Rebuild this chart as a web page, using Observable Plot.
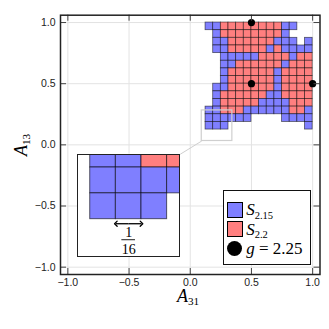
<!DOCTYPE html>
<html><head><meta charset="utf-8">
<script src="https://cdn.jsdelivr.net/npm/d3@7"></script>
<script src="https://cdn.jsdelivr.net/npm/@observablehq/plot@0.6"></script>
<style>
html,body{margin:0;padding:0;background:#fff;}
#wrap{position:relative;width:329px;height:329px;overflow:hidden;background:#fff;}
.tex{font-family:"Liberation Serif","DejaVu Serif",serif;color:#000;white-space:nowrap;line-height:1;}
.tex i{font-style:italic;}
.tex .sub{font-size:0.62em;position:relative;top:0.3em;}
#legend{position:absolute;background:#fff;border:1.4px solid #111;box-sizing:border-box;padding:9px 0 0 3px;}
.lrow{display:flex;align-items:center;height:19.3px;}
.sw{width:16.5px;height:15.5px;box-sizing:border-box;border:1.4px solid #000;margin-right:3px;flex:none;}
.dotsw{width:16.5px;height:16.5px;margin-right:3px;flex:none;display:flex;align-items:center;justify-content:center;}
.dotsw span{display:block;width:15px;height:15px;border-radius:50%;background:#000;}
.ltxt{font-size:17px;}
</style></head><body><div id="wrap"></div>
<script>
// ---- data ----
const ticks = [-1.0, -0.5, 0.0, 0.5, 1.0];
const tickLabels = ["−1.0", "−0.5", "0.0", "0.5", "1.0"];
// grid rows from top (A13 = 1) to bottom, columns from A31 = 0.125 to 1.0; B = S2.15, R = S2.2
const gridRows = [
  "BBRRRRRRRRBB__",
  "_BRRRRRRRRB___",
  "_BBRRRRRRBBB_B",
  "_BBRRRRRBRBBBB",
  "__BBBBBRRRRBRR",
  "__BBRRRRRRBRRR",
  "__BRRRRRRBRRRR",
  "__BRRRRRRBRRRR",
  "_BBRRRRRRBRRRR",
  "_BRRRRRRBBRRRR",
  "_BRRRRRBBBBRRR",
  "BBRRRBBBBBBRRB",
  "BBBBBB____BBBB",
  "BBB__________B"
];
const gridLeft = 0.125, gridTop = 1.0, cellSize = 1 / 16;
const setCodes = ["B", "R"];
const setNames = ["S2.15", "S2.2"];
const setColors = ["#7f7fff", "#ff7f7f"];
const gX = [0.5, 0.5, 1.0];
const gY = [1.0, 0.5, 0.5];
const zoomX = [0.094, 0.344], zoomY = [0.0315, 0.2815];
const insetX = [-0.92, -0.082], insetY = [-0.922, -0.077];
const scaleBarX = [0.1875, 0.25], scaleBarY = 0.114;
const fracParts = ["1", "16"];
const legendSubs = ["2.15", "2.2"];
const gLabel = "2.25";

// ---- build tables ----
const cells = [];
gridRows.forEach((row, r) => {
  [...row].forEach((ch, c) => {
    const k = setCodes.indexOf(ch);
    if (k < 0) return;
    const x1 = gridLeft + c * cellSize, y2 = gridTop - r * cellSize;
    cells.push({x1, x2: x1 + cellSize, y1: y2 - cellSize, y2, set: setNames[k]});
  });
});
const gPoints = gX.map((x, i) => ({x, y: gY[i]}));
const zoomBox = [{x1: zoomX[0], x2: zoomX[1], y1: zoomY[0], y2: zoomY[1]}];
const connector = [{x1: insetX[1], y1: insetY[1], x2: zoomX[0], y2: zoomY[0]}];
const insetBox = [{x1: insetX[0], x2: insetX[1], y1: insetY[0], y2: insetY[1]}];
const mid = (scaleBarX[0] + scaleBarX[1]) / 2;
const arrowHalves = [
  {x1: mid, x2: scaleBarX[0], y: scaleBarY},
  {x1: mid, x2: scaleBarX[1], y: scaleBarY}
];

const W = 329, H = 329, mL = 60, mR = 9.5, mT = 14.7, mB = 55;
const innerW = W - mL - mR, innerH = H - mT - mB;
const tickLen = 6;
const colorScale = {domain: setNames, range: setColors};
const fmt = d => tickLabels[ticks.indexOf(d)];
const cellStyle = {x1: "x1", x2: "x2", y1: "y1", y2: "y2", fill: "set", stroke: "#000", strokeOpacity: 0.6, strokeWidth: 0.8};

const chart = Plot.plot({
  width: W, height: H,
  marginLeft: mL, marginRight: mR, marginTop: mT, marginBottom: mB,
  x: {domain: [-1.06, 1.06]},
  y: {domain: [-1.06, 1.06]},
  color: colorScale,
  style: {background: "white", fontFamily: "'Liberation Sans', Arial, sans-serif", fontSize: "10.5px", color: "#222"},
  marks: [
    Plot.gridX(ticks, {stroke: "#e3e3e3", strokeOpacity: 1, strokeWidth: 1}),
    Plot.gridY(ticks, {stroke: "#e3e3e3", strokeOpacity: 1, strokeWidth: 1}),
    Plot.rect(cells, cellStyle),
    Plot.rect(zoomBox, {x1: "x1", x2: "x2", y1: "y1", y2: "y2", fill: "none", stroke: "#cfcfcf", strokeWidth: 1.2}),
    Plot.link(connector, {x1: "x1", y1: "y1", x2: "x2", y2: "y2", stroke: "#cfcfcf", strokeWidth: 1}),
    Plot.rect(insetBox, {x1: "x1", x2: "x2", y1: "y1", y2: "y2", fill: "white"}),
    Plot.dot(gPoints, {x: "x", y: "y", r: 3.6, fill: "black"}),
    Plot.axisX(ticks, {anchor: "bottom", tickSize: 0, tickPadding: 4, tickFormat: fmt, label: null, fill: "#222"}),
    Plot.axisY(ticks, {anchor: "left", tickSize: 0, tickPadding: 5, tickFormat: fmt, label: null, fill: "#222"}),
    Plot.ruleX(ticks, {insetTop: innerH - tickLen, stroke: "#444"}),
    Plot.ruleX(ticks, {insetBottom: innerH - tickLen, stroke: "#444"}),
    Plot.ruleY(ticks, {insetRight: innerW - tickLen, stroke: "#444"}),
    Plot.ruleY(ticks, {insetLeft: innerW - tickLen, stroke: "#444"}),
    Plot.frame({stroke: "#222", strokeWidth: 1.5})
  ]
});
const wrap = document.getElementById("wrap");
wrap.appendChild(chart);

// ---- inset (magnified view of zoom box) ----
const xs = chart.scale("x"), ys = chart.scale("y");
const iL = xs.apply(insetX[0]), iR = xs.apply(insetX[1]);
const iT = ys.apply(insetY[1]), iB = ys.apply(insetY[0]);
const inset = Plot.plot({
  width: iR - iL, height: iB - iT, margin: 0,
  x: {domain: zoomX, axis: null},
  y: {domain: zoomY, axis: null},
  color: colorScale,
  style: {background: "white"},
  marks: [
    Plot.rect(cells, {...cellStyle, strokeWidth: 1, clip: true}),
    Plot.link(arrowHalves, {x1: "x1", x2: "x2", y1: "y", y2: "y", stroke: "#000", strokeWidth: 1.3, markerEnd: "arrow"}),
    Plot.text([fracParts[0]], {x: mid, y: scaleBarY, dy: 9, text: d => d, fontSize: 14, fontFamily: "'Liberation Serif', serif", fill: "#000"}),
    Plot.ruleY([scaleBarY], {x1: scaleBarX[0], x2: scaleBarX[1], dy: 16, insetLeft: 6, insetRight: 6, stroke: "#000", strokeWidth: 0.9}),
    Plot.text([fracParts[1]], {x: mid, y: scaleBarY, dy: 26, text: d => d, fontSize: 14, fontFamily: "'Liberation Serif', serif", fill: "#000"})
  ]
});
inset.style.position = "absolute";
inset.style.left = iL + "px";
inset.style.top = iT + "px";
inset.style.outline = "1.5px solid #222";
inset.style.outlineOffset = "-1px";
wrap.appendChild(inset);

// ---- legend ----
const legend = document.createElement("div");
legend.id = "legend";
legend.style.left = "222.7px";
legend.style.top = "190.3px";
legend.style.width = "88.5px";
legend.style.height = "75px";
let html = "";
setNames.forEach((n, i) => {
  html += `<div class="lrow"><div class="sw" style="background:${setColors[i]}"></div><span class="tex ltxt"><i>S</i><span class="sub">${legendSubs[i]}</span></span></div>`;
});
html += `<div class="lrow"><div class="dotsw"><span></span></div><span class="tex ltxt"><i>g</i> = ${gLabel}</span></div>`;
legend.innerHTML = html;
wrap.appendChild(legend);

// ---- axis titles ----
const xl = document.createElement("div");
xl.className = "tex";
xl.style.cssText = "position:absolute;left:188px;top:296px;transform:translate(-50%,-50%);font-size:18px;";
xl.innerHTML = `<i>A</i><span class="sub">31</span>`;
wrap.appendChild(xl);
const yl = document.createElement("div");
yl.className = "tex";
yl.style.cssText = "position:absolute;left:21px;top:145px;transform:translate(-50%,-50%) rotate(-90deg);font-size:18px;";
yl.innerHTML = `<i>A</i><span class="sub">13</span>`;
wrap.appendChild(yl);
</script>
</body></html>
